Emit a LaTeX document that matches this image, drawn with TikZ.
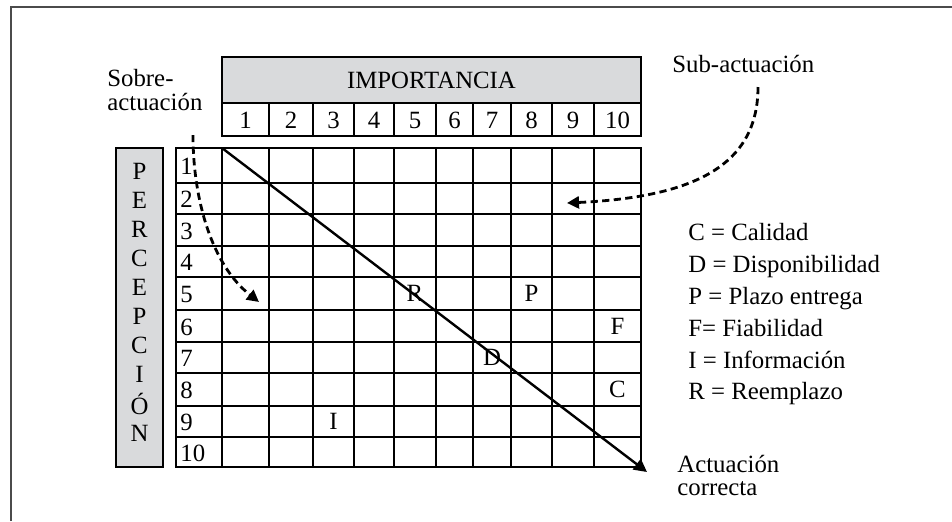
\documentclass[tikz,border=0pt]{standalone}
\usepackage{fontspec}
\setmainfont{Liberation Serif}
\usetikzlibrary{arrows.meta}
\definecolor{HeadGray}{RGB}{217,218,220}
\definecolor{FrameGray}{RGB}{75,75,75}

\begin{document}
\begin{tikzpicture}[
    x=0.5pt, y=-0.5pt,
    txt/.style={inner sep=0pt, font=\fontsize{12.4}{12}\selectfont},
    cellline/.style={line width=1.3pt, draw=black},
    thinline/.style={line width=0.7pt, draw=black},
    shade/.style={fill=HeadGray, draw=black, line width=1.3pt},
    frame/.style={line width=0.8pt, draw=FrameGray},
    diag/.style={-{Triangle[length=6.5pt,width=6.5pt]}, line width=1.2pt},
    dasharrow/.style={-{Triangle[length=6pt,width=6pt]}, line width=1.4pt, dash pattern=on 3.6pt off 2.2pt}
  ]
    \useasboundingbox (0,0) rectangle (952,521);
    \draw[frame] (11,521) -- (11,7) -- (952,7);

    \fill[HeadGray] (222,57) rectangle (641,103);
    \draw[thinline] (222,103) -- (641,103);
    \foreach \x in {269,313,354,394,436,473,511,552,594}
      \draw[thinline] (\x,103) -- (\x,136);
    \draw[cellline] (222,57) rectangle (641,136);
    \node[txt] (importancia) at (431.5,80) {IMPORTANCIA};
    \foreach \xa/\xb [count=\i] in {222/269,269/313,313/354,354/394,394/436,436/473,473/511,511/552,552/594,594/641}
      \node[txt] (col\i) at ({(\xa+\xb)/2},120) {\i};

    \draw[shade] (116,148) rectangle (163,467);
    \foreach \l [count=\i] in {P,E,R,C,E,P,C,I,Ó,N}
      \node[txt] (perc\i) at (139.5,{142+\i*29.1}) {\l};

    \draw[cellline] (176,148) rectangle (641,467);
    \foreach \y in {183,214,246,277,310,342,373,406,437}
      \draw[cellline] (176,\y) -- (641,\y);
    \foreach \x in {222,269,313,354,394,436,473,511,552,594}
      \draw[cellline] (\x,148) -- (\x,467);
    \foreach \ya/\yb [count=\i] in {148/183,183/214,214/246,246/277,277/310,310/342,342/373,373/406,406/437,437/467}
      \node[txt, anchor=west] (row\i) at (180,{(\ya+\yb)/2+1}) {\i};

    \node[txt] (R) at (415,293.5) {R};
    \node[txt] (P) at (531.5,293.5) {P};
    \node[txt] (F) at (617.5,326) {F};
    \node[txt] (D) at (492,357.5) {D};
    \node[txt] (C) at (617.5,389.5) {C};
    \node[txt] (I) at (333.5,421.5) {I};

    \coordinate (origin) at (222,148);
    \coordinate (corner) at (647,472);
    \draw[diag] (origin) -- (corner);

    \node[txt, anchor=west, align=left] (sobre) at (107,90) {Sobre-\\actuación};
    \node[txt, anchor=base west] (sub) at (672,72) {Sub-actuación};
    \node[txt, anchor=west, align=left, font=\fontsize{12.4}{11.5}\selectfont] (correcta) at (677,475) {Actuación\\correcta};
    \foreach \t [count=\i] in {C = Calidad,D = Disponibilidad,P = Plazo entrega,F= Fiabilidad,I = Información,R = Reemplazo}
      \node[txt, anchor=base west] (leg\i) at (688,{209+\i*31.8}) {\t};

    \coordinate (sobretail) at (193,135);
    \coordinate (sobrehead) at (259,302);
    \coordinate (subtail) at (758,87);
    \coordinate (subhead) at (567,203);
    \draw[dasharrow] (sobretail) .. controls (193,200) and (212,265) .. (sobrehead);
    \draw[dasharrow] (subtail) .. controls (758,165) and (695,197) .. (subhead);
  \end{tikzpicture}
\end{document}
